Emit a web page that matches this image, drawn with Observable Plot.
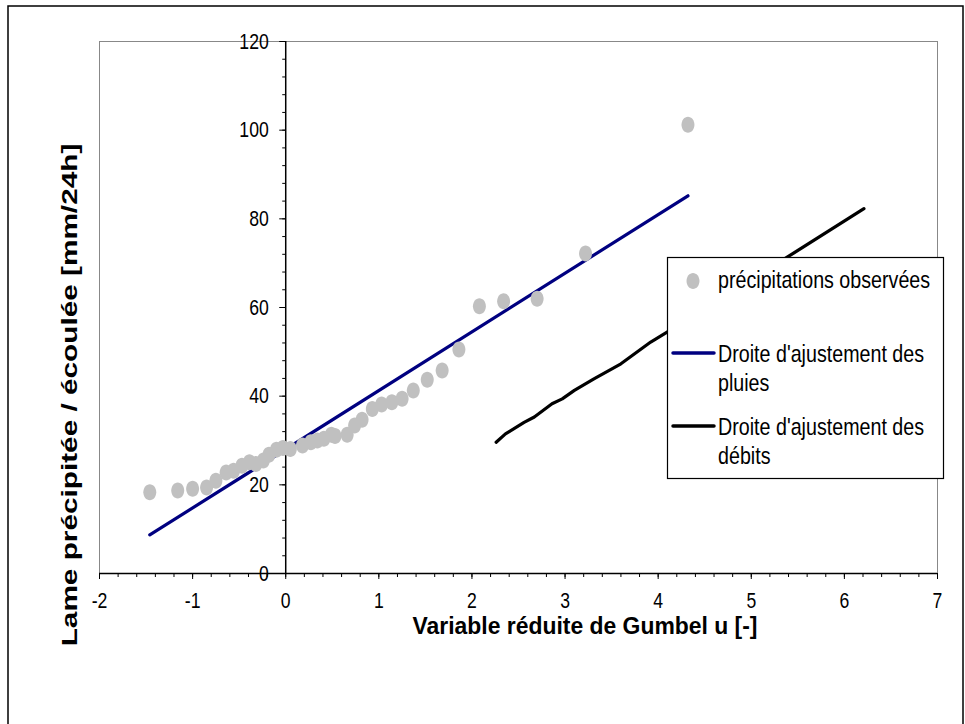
<!DOCTYPE html>
<html><head><meta charset="utf-8">
<script src="https://cdn.jsdelivr.net/npm/d3@7"></script>
<script src="https://cdn.jsdelivr.net/npm/@observablehq/plot@0.6"></script>
<style>
html,body{margin:0;padding:0;background:#fff;}
#wrap{position:relative;width:965px;height:724px;overflow:hidden;font-family:"Liberation Sans",Arial,sans-serif;background:#fff;}
#wrap svg{position:absolute;left:0;top:0;max-width:none;}
</style></head><body><div id="wrap"></div>
<script>
// ---- data ----
const obsU = [-1.46,-1.16,-1.00,-0.85,-0.75,-0.64,-0.56,-0.47,-0.39,-0.32,-0.24,-0.18,-0.10,-0.03,0.05,0.18,0.27,0.34,0.41,0.49,0.53,0.66,0.74,0.82,0.93,1.03,1.14,1.25,1.37,1.52,1.68,1.86,2.08,2.34,2.70,3.22,4.32];
const obsV = [18.3,18.7,19.1,19.4,20.9,22.8,23.2,24.3,25.1,24.7,25.5,26.8,27.9,28.3,28.1,28.9,29.6,30.0,30.4,31.3,31.0,31.3,33.4,34.7,37.1,38.1,38.6,39.4,41.3,43.7,45.8,50.5,60.3,61.4,62.0,72.2,101.2];
const pluiesU = [-1.46, 4.32];
const pluiesV = [8.7, 85.2];
const debitsU = [2.26, 2.36, 2.56, 2.67, 2.86, 2.97, 3.10, 3.31, 3.60, 3.92, 4.10, 5.39, 6.21];
const debitsV = [29.6, 31.5, 34.1, 35.3, 38.3, 39.4, 41.3, 43.9, 47.3, 52.2, 54.5, 71.4, 82.3];
const xTicks = [-2,-1,0,1,2,3,4,5,6,7];
const yTicks = [0,20,40,60,80,100,120];
const xMinorStep = 0.2;
const yMinorStep = 4;
const legendLabels = [["précipitations observées"],["Droite d'ajustement des","pluies"],["Droite d'ajustement des","débits"]];
const xTitle = "Variable réduite de Gumbel u [-]";
const yTitle = "Lame précipitée / écoulée [mm/24h]";

const obs = obsU.map((u,i)=>({u, v: obsV[i]}));
const pluies = pluiesU.map((u,i)=>({u, v: pluiesV[i]}));
const debits = debitsU.map((u,i)=>({u, v: debitsV[i]}));

// layout
const W = 965, H = 724, mL = 99, mR = 28, mT = 41, mB = 151;
const xDom = [-2, 7], yDom = [0, 120];
const y0px = mL + (0 - xDom[0]) / (xDom[1]-xDom[0]) * (W - mL - mR); // pixel of u=0
const axisDx = y0px - mL;
const tickFont = 22;

// ellipse symbol (taller than wide, as in the reference)
const ellipse = {draw(ctx, size){
  const ry = Math.sqrt(size/Math.PI), rx = ry*0.81, k = 0.5523;
  ctx.moveTo(rx,0);
  ctx.bezierCurveTo(rx,k*ry,k*rx,ry,0,ry);
  ctx.bezierCurveTo(-k*rx,ry,-rx,k*ry,-rx,0);
  ctx.bezierCurveTo(-rx,-k*ry,-k*rx,-ry,0,-ry);
  ctx.bezierCurveTo(k*rx,-ry,rx,-k*ry,rx,0);
  ctx.closePath();
}};

const minorX = d3.range(Math.round((xDom[1]-xDom[0])/xMinorStep)+1).map(i => +(xDom[0]+i*xMinorStep).toFixed(2));
const minorY = d3.range(Math.round((yDom[1]-yDom[0])/yMinorStep)+1).map(i => yDom[0]+i*yMinorStep);

const chart = Plot.plot({
  width: W, height: H,
  marginLeft: mL, marginRight: mR, marginTop: mT, marginBottom: mB,
  style: {fontFamily: '"Liberation Sans", Arial, sans-serif', fontSize: tickFont + "px", color: "#000", background: "transparent"},
  x: {domain: xDom, label: null},
  y: {domain: yDom, label: null},
  marks: [
    Plot.frame({stroke: "#888", strokeWidth: 1}),
    Plot.ruleX([0], {y1: yDom[0], y2: yDom[1], stroke: "#000", strokeWidth: 1.5}),
    Plot.ruleY([0], {stroke: "#000", strokeWidth: 1.5}),
    Plot.axisX({ticks: minorX, tickSize: 4, tickFormat: () => "", label: null, stroke: "#000"}),
    Plot.axisX({ticks: xTicks, tickSize: 6, tickPadding: 13, tickFormat: d => String(d), label: null, stroke: "#000", fill: "#000", fontSize: tickFont}),
    Plot.axisY({ticks: minorY, tickSize: 3, tickFormat: () => "", label: null, dx: axisDx, stroke: "#000"}),
    Plot.axisY({ticks: yTicks, tickSize: 6, tickPadding: 11, tickFormat: d => String(d), label: null, dx: axisDx, stroke: "#000", fill: "#000", fontSize: tickFont}),
    Plot.line(pluies, {x: "u", y: "v", stroke: "#000080", strokeWidth: 3.2, strokeLinecap: "round"}),
    Plot.line(debits, {x: "u", y: "v", stroke: "#000", strokeWidth: 3.2, strokeLinecap: "round", strokeLinejoin: "round"}),
    Plot.dot(obs, {x: "u", y: "v", r: 8, symbol: ellipse, fill: "#c0c0c0", stroke: "none"}),
    Plot.text([xTitle], {frameAnchor: "bottom", text: d => d, textAnchor: "middle", dx: 66.5, dy: 60, lineAnchor: "bottom", fontWeight: "bold", fontSize: 23}),
    Plot.text([yTitle], {frameAnchor: "left", text: d => d, textAnchor: "middle", rotate: -90, dx: 76 - mL, dy: 394.5 - (mT + (H - mB - mT)/2), lineAnchor: "bottom", fontWeight: "bold", fontSize: 22})
  ]
});
const wrap = document.getElementById("wrap");
wrap.appendChild(chart);

// squeeze / stretch along the text direction (reference uses a narrow face)
function scaleRotated(el, f){
  el.setAttribute("transform", ((el.getAttribute("transform") || "") + ` scale(${f},1)`).trim());
}
function squeezeLen(el, f){
  const len = el.getComputedTextLength();
  if (len > 0){ el.setAttribute("textLength", (len*f).toFixed(1)); el.setAttribute("lengthAdjust", "spacingAndGlyphs"); }
}
const tickStrings = new Set([...xTicks, ...yTicks].map(String));
chart.querySelectorAll("text").forEach(t => {
  const s = t.textContent;
  if (s === xTitle) squeezeLen(t, 345 / t.getComputedTextLength());
  else if (s === yTitle) scaleRotated(t, 503 / t.getComputedTextLength());
  else if (tickStrings.has(s)) {
    t.style.fontSize = tickFont + "px";
    squeezeLen(t, 0.8);
  }
});

// overlay: outer frame and legend
const ov = d3.select(wrap).append("svg").attr("width", W).attr("height", H)
  .style("font-family", '"Liberation Sans", Arial, sans-serif');
ov.append("rect").attr("x", 8).attr("y", 6).attr("width", 955).attr("height", 760)
  .attr("fill", "none").attr("stroke", "#000").attr("stroke-width", 1.5);
const lg = ov.append("g");
lg.append("rect").attr("x", 667.5).attr("y", 257.5).attr("width", 276).attr("height", 221)
  .attr("fill", "#fff").attr("stroke", "#000").attr("stroke-width", 1.2);
lg.append("path").attr("transform", "translate(693,281)")
  .attr("d", d3.symbol(ellipse, 8*8*Math.PI)()).attr("fill", "#c0c0c0");
lg.append("line").attr("x1", 673).attr("x2", 714).attr("y1", 353).attr("y2", 353)
  .attr("stroke", "#000080").attr("stroke-width", 3.5).attr("stroke-linecap", "round");
lg.append("line").attr("x1", 673).attr("x2", 714).attr("y1", 426).attr("y2", 426)
  .attr("stroke", "#000").attr("stroke-width", 3.5).attr("stroke-linecap", "round");
const baselines = [[288],[362,391],[435,464]];
legendLabels.forEach((lines, i) => lines.forEach((s, j) => {
  lg.append("text").attr("transform", `translate(718,${baselines[i][j]}) scale(0.82,1)`)
    .attr("font-size", 24).attr("fill", "#000").text(s);
}));
</script></body></html>
